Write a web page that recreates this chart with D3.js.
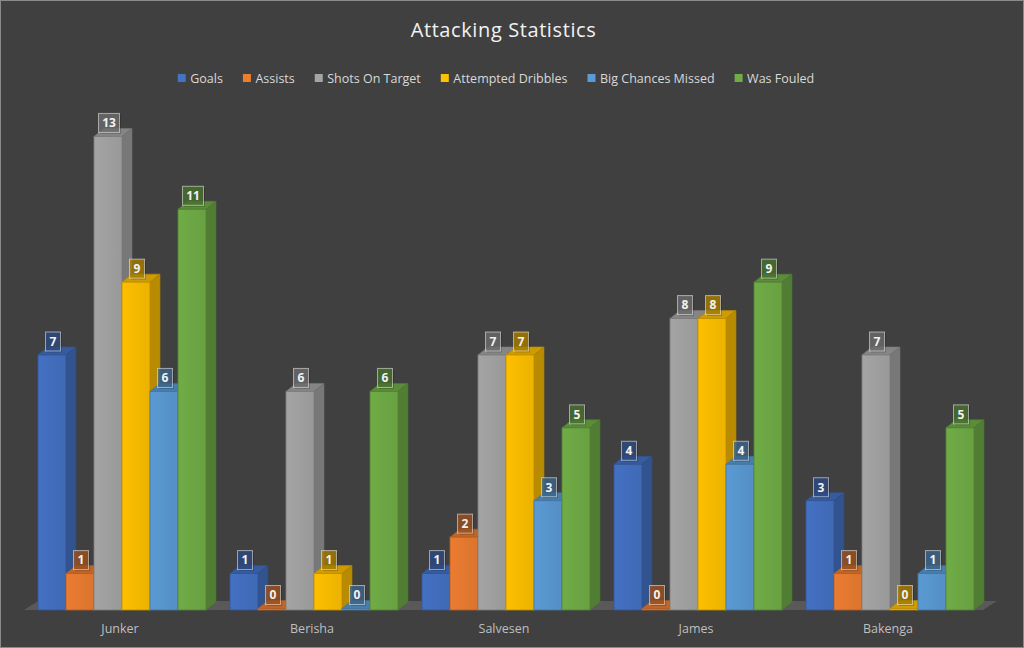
<!DOCTYPE html>
<html><head><meta charset="utf-8">
<script src="https://cdn.jsdelivr.net/npm/d3@7"></script>
<style>
html,body{margin:0;padding:0;background:#404040;}
svg{display:block;}
</style></head>
<body>
<svg id="chart" width="1024" height="648"></svg>
<script>
const categories = ["Junker", "Berisha", "Salvesen", "James", "Bakenga"];
const seriesNames = ["Goals", "Assists", "Shots On Target", "Attempted Dribbles", "Big Chances Missed", "Was Fouled"];
const goals = [7, 1, 1, 4, 3];
const assists = [1, 0, 2, 0, 1];
const shotsOnTarget = [13, 6, 7, 8, 7];
const attemptedDribbles = [9, 1, 7, 8, 0];
const bigChancesMissed = [6, 0, 3, 4, 1];
const wasFouled = [11, 6, 5, 9, 5];
const seriesColors = ["#4472c4", "#ed7d31", "#a5a5a5", "#ffc000", "#5b9bd5", "#70ad47"];
const titleText = "Attacking Statistics";

const seriesValues = [goals, assists, shotsOnTarget, attemptedDribbles, bigChancesMissed, wasFouled];

const svg = d3.select("#chart");
const W = 1024, H = 648;
const font = "'Open Sans', 'Liberation Sans', sans-serif";

svg.append("rect").attr("x", 0.5).attr("y", 0.5).attr("width", W - 1).attr("height", H - 1)
  .attr("fill", "#404040").attr("stroke", "#8a8a8a").attr("stroke-width", 1);

const x = d3.scaleBand().domain(categories).range([26, 986]).paddingInner(0.125).paddingOuter(0.0625);
const xs = d3.scaleBand().domain(seriesNames).range([0, x.bandwidth()]);
const y = d3.scaleLinear().domain([0, 14]).range([610, 100]);

const DX = 10, DY = 8;

// defs: gradients for front faces
const defs = svg.append("defs");
seriesColors.forEach((c, i) => {
  const g = defs.append("linearGradient").attr("id", "grad" + i).attr("x1", "0").attr("x2", "1").attr("y1", "0").attr("y2", "0");
  g.append("stop").attr("offset", "0").attr("stop-color", d3.color(c).darker(0.02).formatHex());
  g.append("stop").attr("offset", "1").attr("stop-color", d3.color(c).darker(0.22).formatHex());
});

// floor
const fx0 = x.range()[0] - 2, fx1 = x.range()[1] - 3, fy = y(0);
svg.append("path")
  .attr("d", `M${fx0},${fy} L${fx1},${fy} L${fx1 + 14},${fy - 9} L${fx0 + 14},${fy - 9} Z`)
  .attr("fill", "#595959");

// bars
const barsG = svg.append("g");
categories.forEach((cat, ci) => {
  seriesNames.forEach((s, si) => {
    const v = seriesValues[si][ci];
    const c = d3.color(seriesColors[si]);
    const x0 = x(cat) + xs(s), w = xs.bandwidth();
    const yb = y(0);
    let yt = y(v);
    if (v === 0) yt = yb - 1.5;
    const g = barsG.append("g");
    // top face
    g.append("path")
      .attr("d", `M${x0},${yt} L${x0 + w},${yt} L${x0 + w + DX},${yt - DY} L${x0 + DX},${yt - DY} Z`)
      .attr("fill", c.darker(0.6).formatHex()).attr("stroke", c.darker(0.9).formatHex()).attr("stroke-width", 0.6);
    // side face
    g.append("path")
      .attr("d", `M${x0 + w},${yt} L${x0 + w + DX},${yt - DY} L${x0 + w + DX},${yb - DY} L${x0 + w},${yb} Z`)
      .attr("fill", c.darker(0.9).formatHex()).attr("stroke", c.darker(1.1).formatHex()).attr("stroke-width", 0.6);
    // front face
    g.append("rect")
      .attr("x", x0).attr("y", yt).attr("width", w).attr("height", yb - yt)
      .attr("fill", `url(#grad${si})`).attr("stroke", c.darker(0.8).formatHex()).attr("stroke-width", 0.8);
  });
});

// data labels
const labelsG = svg.append("g").attr("font-family", font).attr("font-size", 12).attr("font-weight", "bold");
categories.forEach((cat, ci) => {
  seriesNames.forEach((s, si) => {
    const v = seriesValues[si][ci];
    const c = d3.color(seriesColors[si]);
    const cx = x(cat) + xs(s) + xs.bandwidth() / 2 + 1;
    const yt = v === 0 ? y(0) - 1.5 : y(v);
    const bh = 19;
    const bw = String(v).length > 1 ? 21 : 15;
    const by = yt - 4 - bh;
    const g = labelsG.append("g");
    g.append("rect").attr("x", cx - bw / 2 + 1.5).attr("y", by + 1.5).attr("width", bw).attr("height", bh)
      .attr("fill", "#000").attr("opacity", 0.18);
    g.append("rect").attr("x", cx - bw / 2).attr("y", by).attr("width", bw).attr("height", bh)
      .attr("fill", c.darker(1.1).formatHex()).attr("fill-opacity", 0.78)
      .attr("stroke", "rgba(255,255,255,0.5)").attr("stroke-width", 1);
    g.append("text").attr("x", cx).attr("y", by + bh / 2 + 4.3).attr("text-anchor", "middle")
      .attr("fill", "#f2f2f2").text(v);
  });
});

// category axis
const axis = d3.axisBottom(x).tickSize(0).tickPadding(0);
const axG = svg.append("g").attr("transform", `translate(-2,${621})`).call(axis);
axG.select(".domain").remove();
axG.selectAll("text").attr("font-family", font).attr("font-size", 12.5).attr("fill", "#bfbfbf").attr("dy", "0.71em").attr("y", 3);

// title
svg.append("text").attr("x", 503.5).attr("y", 37).attr("text-anchor", "middle")
  .attr("font-family", font).attr("font-size", 20).attr("letter-spacing", 0.6)
  .attr("fill", "#f2f2f2").text(titleText);

// legend
const legend = svg.append("g").attr("font-family", font).attr("font-size", 12.5).attr("fill", "#d9d9d9");
const items = seriesNames.map((s, i) => {
  const g = legend.append("g");
  g.append("rect").attr("width", 8).attr("height", 8).attr("y", -8.5).attr("fill", seriesColors[i]);
  const t = g.append("text").attr("x", 12.5).attr("y", 0).text(s);
  return { g, w: 12.5 + t.node().getComputedTextLength() };
});
const gap = 20;
const total = d3.sum(items, d => d.w) + gap * (items.length - 1);
let lx = 496 - total / 2;
items.forEach(it => { it.g.attr("transform", `translate(${lx},82.5)`); lx += it.w + gap; });
</script>
</body></html>
